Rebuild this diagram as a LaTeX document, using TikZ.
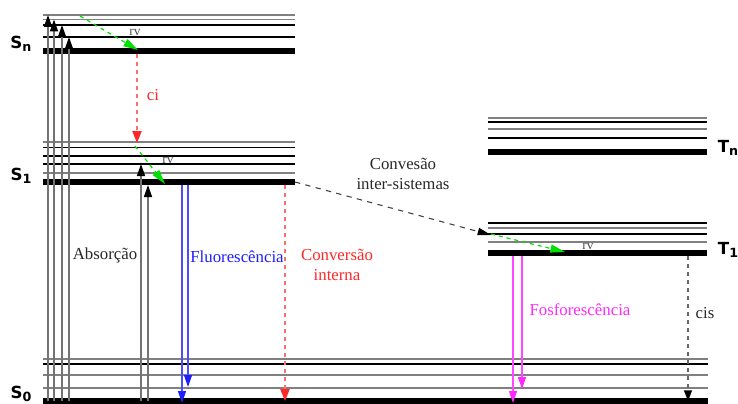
\documentclass[tikz,border=0pt]{standalone}
\usepackage{fontspec}
\setmainfont{Liberation Serif}
\newfontfamily\statefont{DejaVu Sans}
\usetikzlibrary{arrows.meta}
\definecolor{rvgreen}{RGB}{0,225,0}
\definecolor{cired}{RGB}{255,40,40}
\definecolor{cilight}{RGB}{255,110,110}
\definecolor{flblue}{RGB}{30,30,255}
\definecolor{phmag}{RGB}{255,40,255}
\definecolor{txtgray}{RGB}{40,40,40}
\begin{document}
\begin{tikzpicture}[x=0.75pt,y=-0.75pt,
  lvk/.style={line width=0.8pt, black},
  lvg/.style={line width=0.8pt, black!50},
  lvthick/.style={line width=3.8pt, black},
  absarrow/.style={line width=1.1pt, draw=black!55, -{Triangle[length=9pt,width=6pt,color=black]}},
  rvarrow/.style={line width=0.9pt, draw=rvgreen, dash pattern=on 3pt off 3pt, -{Triangle[length=11pt,width=6pt,color=rvgreen]}},
  ciarrow/.style={line width=0.9pt, draw=cilight, dash pattern=on 3pt off 3pt, -{Triangle[length=9pt,width=7pt,color=cired]}},
  flarrow/.style={line width=1pt, draw=flblue!80, -{Triangle[length=9pt,width=6pt,color=flblue]}},
  pharrow/.style={line width=1pt, draw=phmag!85, -{Triangle[length=9pt,width=6pt,color=phmag]}},
  iscarrow/.style={line width=0.8pt, draw=black!75, dash pattern=on 4pt off 4pt, -{Triangle[length=10pt,width=5.5pt,color=black]}},
  cisarrow/.style={line width=1pt, draw=black!60, dash pattern=on 3pt off 3pt, -{Triangle[length=8pt,width=6pt,color=black]}},
  statelbl/.style={font=\statefont\bfseries\fontsize{12.5}{14}\selectfont, inner sep=0pt},
  txt/.style={font=\fontsize{12.6}{14.5}\selectfont, text=txtgray, inner sep=0pt, align=center},
  rvlbl/.style={font=\fontsize{10}{11}\selectfont, text=black!70, inner sep=0pt}
]
\useasboundingbox (0,0) rectangle (738,403);

% ---- S_n levels
\draw[lvg] (43,15) -- (295,15);
\draw[lvg] (43,19.5) -- (295,19.5);
\draw[lvk] (43,25) -- (295,25);
\draw[lvk] (43,37) -- (295,37);
\draw[lvthick] (43,51) -- (295,51);
% ---- S_1 levels
\draw[lvg] (43,142) -- (295,142);
\draw[lvk] (43,147.5) -- (295,147.5);
\draw[lvk] (43,156) -- (295,156);
\draw[lvk] (43,164) -- (295,164);
\draw[lvg] (43,173) -- (295,173);
\draw[lvthick] (43,182) -- (295,182);
% ---- S_0 levels
\draw[lvg] (43,359) -- (708,359);
\draw[lvk] (43,364) -- (708,364);
\draw[lvg] (43,375) -- (708,375);
\draw[lvg] (43,388) -- (708,388);
\draw[lvthick] (43,401) -- (708,401);
% ---- T_n levels
\draw[lvg] (488,118) -- (707,118);
\draw[lvk] (488,122) -- (707,122);
\draw[lvg] (488,129) -- (707,129);
\draw[lvk] (488,138) -- (707,138);
\draw[lvthick] (488,152) -- (707,152);
% ---- T_1 levels
\draw[lvk] (488,223) -- (707,223);
\draw[lvg] (488,228) -- (707,228);
\draw[lvk] (488,234) -- (707,234);
\draw[lvg] (488,242) -- (707,242);
\draw[lvthick] (488,253) -- (707,253);

% ---- state labels
\node[statelbl] (sn) at (21,44) {S\raisebox{-0.35ex}{\fontsize{9.5}{10}\selectfont n}};
\node[statelbl] (s1) at (21,176) {S\raisebox{-0.35ex}{\fontsize{9.5}{10}\selectfont 1}};
\node[statelbl] (s0) at (21,394) {S\raisebox{-0.35ex}{\fontsize{9.5}{10}\selectfont 0}};
\node[statelbl] (tn) at (728,148) {T\raisebox{-0.35ex}{\fontsize{9.5}{10}\selectfont n}};
\node[statelbl] (t1) at (728,250) {T\raisebox{-0.35ex}{\fontsize{9.5}{10}\selectfont 1}};

% ---- named end points
\coordinate (a1b) at (48,401);  \coordinate (a1t) at (48,15);
\coordinate (a2b) at (54,401);  \coordinate (a2t) at (54,19.5);
\coordinate (a3b) at (62,401);  \coordinate (a3t) at (62,25);
\coordinate (a4b) at (69,401);  \coordinate (a4t) at (69,37);
\coordinate (a5b) at (141,401); \coordinate (a5t) at (141,164);
\coordinate (a6b) at (148,401); \coordinate (a6t) at (148,185);
\coordinate (rv1s) at (80,16);   \coordinate (rv1e) at (138,50);
\coordinate (cis1) at (137,54);  \coordinate (cie1) at (137,143);
\coordinate (rv2s) at (135,146); \coordinate (rv2e) at (165,184);
\coordinate (f1s) at (182,185); \coordinate (f1e) at (182,403);
\coordinate (f2s) at (188,185); \coordinate (f2e) at (188,387);
\coordinate (ics) at (285,185); \coordinate (ice) at (285,401);
\coordinate (iscs) at (295,182); \coordinate (isce) at (491,235);
\coordinate (rv3s) at (491,234); \coordinate (rv3e) at (565,252);
\coordinate (p1s) at (513,256); \coordinate (p1e) at (513,403);
\coordinate (p2s) at (522,256); \coordinate (p2e) at (522,389);
\coordinate (css) at (688,256); \coordinate (cse) at (688,401);

% ---- absorption
\draw[absarrow] (a1b) -- (a1t);
\draw[absarrow] (a2b) -- (a2t);
\draw[absarrow] (a3b) -- (a3t);
\draw[absarrow] (a4b) -- (a4t);
\draw[absarrow] (a5b) -- (a5t);
\draw[absarrow] (a6b) -- (a6t);

% ---- relaxations
\draw[rvarrow] (rv1s) -- (rv1e);
\draw[ciarrow] (cis1) -- (cie1);
\draw[rvarrow] (rv2s) -- (rv2e);
\draw[flarrow] (f1s) -- (f1e);
\draw[flarrow] (f2s) -- (f2e);
\draw[ciarrow] (ics) -- (ice);
\draw[iscarrow] (iscs) -- (isce);
\draw[rvarrow] (rv3s) -- (rv3e);
\draw[pharrow] (p1s) -- (p1e);
\draw[pharrow] (p2s) -- (p2e);
\draw[cisarrow] (css) -- (cse);

% ---- labels
\node[rvlbl] (rvl1) at (135,32) {rv};
\node[rvlbl] (rvl2) at (168,160) {rv};
\node[rvlbl] (rvl3) at (588,246) {rv};
\node[txt, text=cired] (cil) at (153,95) {ci};
\node[txt] (absl) at (105,255) {Absorção};
\node[txt, text=flblue] (fll) at (237,257) {Fluorescência};
\node[txt, text=cired] (icl) at (337,265) {Conversão\\interna};
\node[txt] (iscl) at (403,174) {Convesão\\inter-sistemas};
\node[txt, text=phmag] (phl) at (580,310) {Fosforescência};
\node[txt] (cisl) at (705,313) {cis};
\end{tikzpicture}
\end{document}
